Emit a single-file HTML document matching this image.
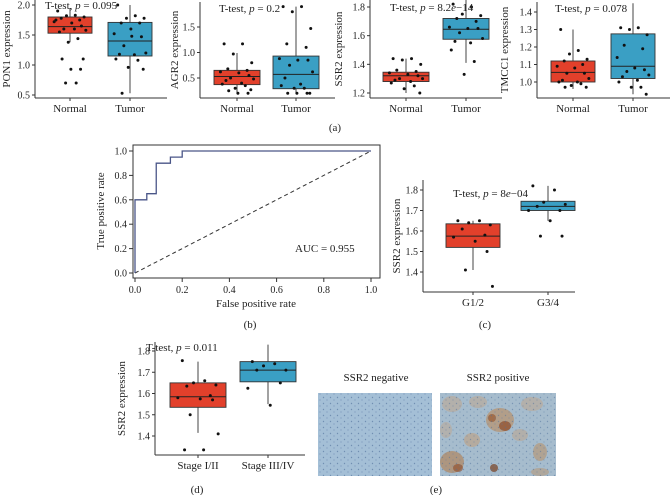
<!DOCTYPE html>
<html><head><meta charset="utf-8">
<style>
html,body{margin:0;padding:0;background:#fff;}
svg{display:block;font-family:"Liberation Serif",serif;}
</style></head>
<body>
<svg id="fig" width="670" height="495" viewBox="0 0 670 495" xmlns="http://www.w3.org/2000/svg">
<defs>
<pattern id="cells" width="7" height="6" patternUnits="userSpaceOnUse">
<circle cx="1.5" cy="1.5" r="0.7" fill="#4f6f9a"/><circle cx="5" cy="4" r="0.6" fill="#5b7aa5"/>
</pattern>
</defs>
<g id="layer"></g>
</svg>
<script>
// ---------- DATA ----------
const groupsA = ["Normal","Tumor"];
const pon1Stats = [[1.38,1.53,1.64,1.80,1.95],[0.53,1.15,1.40,1.71,2.0]];
const pon1Points = [[1.9,1.83,1.82,1.8,1.78,1.75,1.72,1.7,1.65,1.6,1.58,1.55,1.6,1.75,1.44,1.38,1.1,1.1,0.93,0.93,0.7,0.7],[2.0,1.82,1.78,1.78,1.7,1.7,1.52,1.48,1.47,1.32,1.2,1.18,1.17,1.1,1.08,0.96,0.93,0.53,1.6]];
const pon1Ticks = [0.5,1.0,1.5,2.0];
const agr2Stats = [[0.2,0.37,0.53,0.65,0.99],[0.2,0.29,0.57,0.93,1.9]];
const agr2Points = [[1.17,1.17,0.97,0.8,0.68,0.65,0.62,0.6,0.55,0.5,0.48,0.45,0.4,0.38,0.35,0.3,0.27,0.25,0.2,0.2],[1.9,1.9,1.8,1.47,1.17,1.1,0.88,0.85,0.85,0.75,0.62,0.5,0.38,0.35,0.3,0.3,0.2,0.2,0.2,0.2]];
const agr2Ticks = [0.5,1.0,1.5];
const ssr2Stats = [[1.2,1.28,1.32,1.345,1.44],[1.41,1.575,1.645,1.72,1.85]];
const ssr2Points = [[1.44,1.44,1.43,1.4,1.36,1.35,1.34,1.33,1.32,1.3,1.3,1.29,1.28,1.27,1.25,1.23,1.2],[1.82,1.8,1.75,1.74,1.72,1.7,1.66,1.65,1.65,1.62,1.58,1.56,1.55,1.5,1.42,1.33]];
const ssr2Ticks = [1.2,1.4,1.6,1.8];
const tmccStats = [[0.96,1.0,1.055,1.12,1.3],[0.93,1.02,1.09,1.275,1.45]];
const tmccPoints = [[1.3,1.18,1.16,1.13,1.12,1.1,1.09,1.08,1.05,1.05,1.02,1.01,1.0,1.0,0.99,0.98,0.97,0.97],[1.31,1.31,1.3,1.27,1.21,1.19,1.14,1.08,1.07,1.06,1.04,1.03,1.01,1.0,0.97,0.97,0.93]];
const tmccTicks = [1.0,1.1,1.2,1.3,1.4];
const groupsC = ["G1/2","G3/4"];
const gradeStats = [[1.41,1.52,1.575,1.635,1.65],[1.65,1.70,1.72,1.745,1.82]];
const gradePoints = [[1.65,1.65,1.64,1.63,1.61,1.58,1.57,1.55,1.5,1.41,1.33],[1.82,1.8,1.74,1.73,1.72,1.70,1.70,1.65,1.575,1.575]];
const gradeTicks = [1.4,1.5,1.6,1.7,1.8];
const groupsD = ["Stage I/II","Stage III/IV"];
const stageStats = [[1.415,1.535,1.585,1.65,1.75],[1.55,1.655,1.71,1.75,1.83]];
const stagePoints = [[1.755,1.66,1.65,1.64,1.635,1.59,1.58,1.575,1.57,1.5,1.41,1.335,1.335],[1.75,1.74,1.73,1.71,1.71,1.65,1.625,1.545]];
const stageTicks = [1.4,1.5,1.6,1.7,1.8];
const rocFpr = [0,0,0.05,0.05,0.09,0.09,0.15,0.15,0.2,0.2,1];
const rocTpr = [0,0.6,0.6,0.65,0.65,0.9,0.9,0.95,0.95,1,1];
const rocTicks = [0.0,0.2,0.4,0.6,0.8,1.0];

// ---------- HELPERS ----------
const NS="http://www.w3.org/2000/svg";
const layer=document.getElementById('layer');
function el(tag,attrs,parent){const e=document.createElementNS(NS,tag);for(const k in attrs)e.setAttribute(k,attrs[k]);(parent||layer).appendChild(e);return e;}
function txt(x,y,s,size,anchor,parent,rot){const t=el('text',{x:x,y:y,'font-size':size,'text-anchor':anchor||'middle',fill:'#222'},parent);if(rot)t.setAttribute('transform','rotate(-90 '+x+' '+y+')');t.textContent=s;return t;}
const jit=[-0.7,0.3,-0.2,0.8,-0.5,0.55,-0.9,0.1,0.65,-0.35,0.9,-0.6,0.25,-0.8,0.45,-0.1,0.75,-0.45,0.05,0.6,-0.25,0.35];
const colors=["#e2402b","#3a9fc4"];

function boxPanel(cfg){
  const g=el('g',{});
  
  
  const y=v=>cfg.y0+(v-cfg.v0)*(cfg.y1-cfg.y0)/(cfg.v1-cfg.v0);
  el('line',{x1:cfg.ax,y1:cfg.top,x2:cfg.ax,y2:cfg.bottom,stroke:'#333','stroke-width':1},g);
  el('line',{x1:cfg.ax,y1:cfg.bottom,x2:cfg.right,y2:cfg.bottom,stroke:'#333','stroke-width':1},g);
  cfg.ticks.forEach(t=>{
    const yy=y(t);
    el('line',{x1:cfg.ax-3,y1:yy,x2:cfg.ax,y2:yy,stroke:'#333'},g);
    const lb=txt(cfg.ax-5,yy+3.5,t.toFixed(1),10,'end',g);
    
    
  });
  cfg.groups.forEach((name,i)=>{
    const cx=cfg.cx[i], hw=cfg.hw;
    const s=cfg.stats[i];
    el('line',{x1:cx,y1:cfg.bottom,x2:cx,y2:cfg.bottom+3,stroke:'#333'},g);
    const xl=txt(cx,cfg.bottom+14,name,11,'middle',g);
    
    
    el('line',{x1:cx,y1:y(s[0]),x2:cx,y2:y(s[4]),stroke:'#444','stroke-width':1},g);
    const b=el('rect',{x:cx-hw,y:y(s[3]),width:2*hw,height:y(s[1])-y(s[3]),fill:colors[i],stroke:'#333','stroke-width':0.9},g);
    
    
    el('line',{x1:cx-hw,y1:y(s[2]),x2:cx+hw,y2:y(s[2]),stroke:'#222','stroke-width':1},g);
    cfg.points[i].forEach((v,j)=>{
      const p=el('circle',{cx:cx+jit[j%jit.length]*hw*0.8,cy:y(v),r:1.5,fill:'#111'},g);
      
      
    });
  });
  const yt=txt(cfg.ytx,(cfg.top+cfg.bottom)/2,cfg.ytitle,11,'middle',g,true);
  
  
  const an=el('text',{x:cfg.annX,y:cfg.annY,'font-size':11,fill:'#222'},g);
  
  
  an.innerHTML='T-test, <tspan font-style="italic">p</tspan> = '+cfg.p;
}

boxPanel({name:'pon1-boxplot',groups:groupsA,stats:pon1Stats,points:pon1Points,ticks:pon1Ticks,v0:0.5,y0:95,v1:2.0,y1:5,ax:35,top:0,bottom:98,right:167,cx:[70,130],hw:22,ytitle:'PON1 expression',ytx:10,annX:45,annY:9,p:'0.095'});
boxPanel({name:'agr2-boxplot',groups:groupsA,stats:agr2Stats,points:agr2Points,ticks:agr2Ticks,v0:0.5,y0:78,v1:1.5,y1:27,ax:200,top:2,bottom:98,right:335,cx:[237,296],hw:23,ytitle:'AGR2 expression',ytx:178,annX:219,annY:12,p:'0.2'});
boxPanel({name:'ssr2-boxplot',groups:groupsA,stats:ssr2Stats,points:ssr2Points,ticks:ssr2Ticks,v0:1.2,y0:93,v1:1.8,y1:7,ax:370,top:0,bottom:98,right:502,cx:[406,466],hw:23,ytitle:'SSR2 expression',ytx:342,annX:390,annY:11,p:'8.2<tspan font-style="italic">e</tspan>−14'});
boxPanel({name:'tmcc1-boxplot',groups:groupsA,stats:tmccStats,points:tmccPoints,ticks:tmccTicks,v0:1.0,y0:82,v1:1.4,y1:12,ax:537,top:2,bottom:98,right:670,cx:[573,633],hw:22,ytitle:'TMCC1 expression',ytx:508,annX:555,annY:12,p:'0.078'});
boxPanel({name:'grade-boxplot',groups:groupsC,stats:gradeStats,points:gradePoints,ticks:gradeTicks,v0:1.4,y0:272,v1:1.8,y1:190,ax:423,top:180,bottom:292,right:575,cx:[473,548],hw:27,ytitle:'SSR2 expression',ytx:400,annX:453,annY:197,p:'8<tspan font-style="italic">e</tspan>−04'});
boxPanel({name:'stage-boxplot',groups:groupsD,stats:stageStats,points:stagePoints,ticks:stageTicks,v0:1.4,y0:436,v1:1.8,y1:351,ax:155,top:342,bottom:455,right:305,cx:[198,268],hw:28,ytitle:'SSR2 expression',ytx:125,annX:146,annY:351,p:'0.011'});

// ROC
(function(){
  const g=el('g',{});
  
  
  const x=v=>135+v*236, y=v=>273-v*122;
  el('rect',{x:133,y:145,width:247,height:133,fill:'none',stroke:'#333','stroke-width':1},g);
  rocTicks.forEach(t=>{
    el('line',{x1:x(t),y1:278,x2:x(t),y2:282,stroke:'#333'},g);
    txt(x(t),293,t.toFixed(1),10,'middle',g);
    el('line',{x1:129,y1:y(t),x2:133,y2:y(t),stroke:'#333'},g);
    txt(127,y(t)+3.5,t.toFixed(1),10,'end',g);
  });
  const d=el('line',{x1:x(0),y1:y(0),x2:x(1),y2:y(1),stroke:'#333','stroke-dasharray':'4,3','stroke-width':1},g);
  
  
  const pts=rocFpr.map((f,i)=>x(f)+','+y(rocTpr[i])).join(' ');
  const pl=el('polyline',{points:pts,fill:'none',stroke:'#4a5688','stroke-width':1.3},g);
  
  
  const a=txt(295,252,'AUC = 0.955',11,'start',g);
  
  
  const xt=txt(256,307,'False positive rate',11,'middle',g);
  
  
  const yt=txt(104,211,'True positive rate',11,'middle',g,true);
  
  
})();

// panel labels
[['(a)',335,131],['(b)',250,328],['(c)',485,328],['(d)',197,493],['(e)',436,493]].forEach(l=>{
  const t=txt(l[1],l[2],l[0],11,'middle');
  
  
});

// IHC images
(function(){
  const g=el('g',{});
  
  
  const t1=txt(376,381,'SSR2 negative',11,'middle',g);
  
  
  const t2=txt(498,381,'SSR2 positive',11,'middle',g);
  
  
  const n=el('rect',{x:318,y:393,width:114,height:83,fill:'#a4bfd6'},g);
  
  
  el('rect',{x:318,y:393,width:114,height:83,fill:'url(#cells)',opacity:0.6},g);
  const p=el('rect',{x:440,y:393,width:116,height:83,fill:'#a6bccd'},g);
  
  
  const blobs=[[500,420,14,12,'#b8926c',0.7],[505,426,6,5,'#8e4a26',0.7],[492,418,4,4,'#9a5a30',0.7],[452,462,12,11,'#b08660',0.7],[458,468,5,4,'#8e4a26',0.6],[472,440,8,7,'#c0a080',0.6],[540,452,7,9,'#b8926c',0.6],[452,404,10,8,'#c0a48a',0.5],[532,404,11,7,'#c0a48a',0.5],[494,468,4,4,'#7a4020',0.7],[540,472,9,4,'#b8926c',0.5],[478,402,9,6,'#c0a48a',0.5],[520,435,8,6,'#c0a080',0.45],[446,430,6,8,'#c0a48a',0.45]];
  blobs.forEach(b=>el('ellipse',{cx:b[0],cy:b[1],rx:b[2],ry:b[3],fill:b[4],opacity:b[5]},g));
  el('rect',{x:440,y:393,width:116,height:83,fill:'url(#cells)',opacity:0.5},g);
})();
</script>
</body></html>
